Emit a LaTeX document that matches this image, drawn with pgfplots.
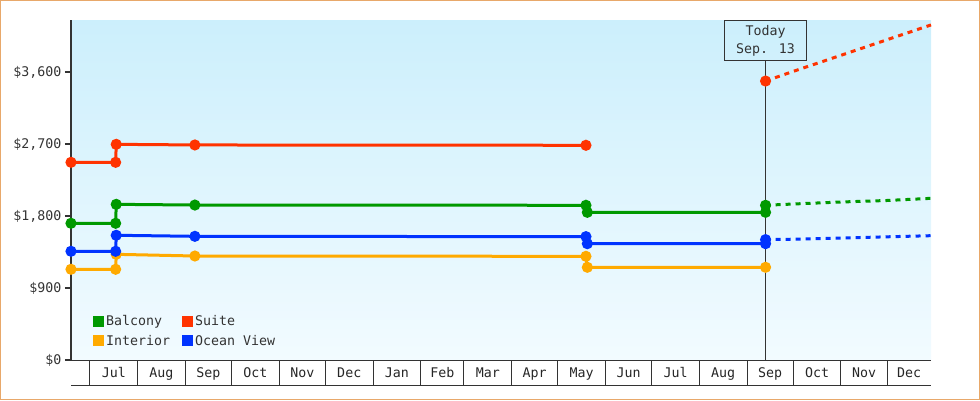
\documentclass[border=0pt]{standalone}
\usepackage{fontspec}
\setmainfont{DejaVu Sans Mono}
\usepackage{pgfplots}
\pgfplotsset{compat=1.18}

\definecolor{balcony}{HTML}{009900}
\definecolor{suite}{HTML}{FF3300}
\definecolor{interior}{HTML}{FFAA00}
\definecolor{oceanview}{HTML}{0033FF}
\definecolor{framecol}{HTML}{E8A86A}
\definecolor{axisgray}{HTML}{333333}
\definecolor{bgtop}{HTML}{CCEFFC}
\definecolor{bgbottom}{HTML}{F2FBFF}

% x = days since 1 Jul (year 1), y = fare in dollars
\begin{document}
\begin{tikzpicture}[font=\fontsize{13.3pt}{15pt}\selectfont]
\useasboundingbox (0,0) rectangle (980pt,-400pt);
\draw[framecol, line width=1pt] (0.5pt,-0.5pt) rectangle (979.5pt,-399.5pt);
\begin{axis}[
    at={(71pt,-360pt)}, anchor=south west,
    width=860pt, height=340pt, scale only axis,
    xmin=-12.3, xmax=546.5, ymin=0, ymax=4250,
    clip=false,
    axis x line*=bottom, axis y line*=left,
    x axis line style={line width=1pt, axisgray},
    y axis line style={line width=2pt, axisgray},
    axis background/.style={top color=bgtop, bottom color=bgbottom},
    tick align=outside,
    major tick length=6pt,
    minor tick length=25pt,
    ytick={0,900,1800,2700,3600},
    yticklabels={\$0,\$900,{\$1,800},{\$2,700},{\$3,600}},
    ytick style={line width=2pt, axisgray},
    yticklabel style={text=axisgray},
    xtick={15.5,46.5,77,107.5,138,168.5,199.5,229,258.5,289,319.5,350,380.5,411.5,442,472.5,503,532.25},
    xticklabels={Jul,Aug,Sep,Oct,Nov,Dec,Jan,Feb,Mar,Apr,May,Jun,Jul,Aug,Sep,Oct,Nov,Dec},
    minor xtick={0,31,62,92,123,153,184,215,243,274,304,335,365,396,427,457,488,518},
    major x tick style={draw=none},
    minor x tick style={line width=1pt, axisgray},
    xticklabel style={text=black!85, yshift=2pt},
    every axis plot/.append style={line width=3pt, mark=*, mark size=4pt, mark options={solid}},
    legend columns=2,
    legend cell align=left,
    legend style={draw=none, fill=none, text=axisgray,
        at={(axis description cs:0.022,0.144)}, anchor=north west,
        /tikz/every even column/.append style={column sep=10pt},
        /tikz/row sep=4pt},
    legend image code/.code={\fill[#1, draw=none] (0pt,-5.5pt) rectangle (11pt,5.5pt);},
]
% bottom edge of the month row
\draw[axisgray, line width=1pt] ([yshift=-25pt]rel axis cs:0,0) -- ([yshift=-25pt]rel axis cs:1,0);
% today marker
\node[draw=axisgray, line width=1pt, anchor=north, align=center, text=axisgray,
      inner xsep=12pt, inner ysep=5pt, font=\fontsize{13.3pt}{17.5pt}\selectfont]
      (today) at (axis cs:439,4250) {Today\\Sep. 13};
\draw[axisgray, line width=1pt] (axis cs:439,0) -- (today.south);

\addplot[color=balcony] coordinates {
    (-12.3,1709) (16.7,1709) (17.1,1946) (68.2,1937) (322.3,1934)
    (323.2,1846) (439,1846) (439,1934)
};
\addlegendentry{Balcony}
\addplot[color=suite] coordinates {
    (-12.3,2471) (16.7,2471) (17.1,2696) (68.2,2688) (322.3,2684)
};
\addlegendentry{Suite}
\addplot[color=interior] coordinates {
    (-12.3,1134) (16.7,1134) (17.1,1321) (68.2,1300) (322.3,1296)
    (323.2,1159) (439,1159)
};
\addlegendentry{Interior}
\addplot[color=oceanview] coordinates {
    (-12.3,1359) (16.7,1359) (17.1,1559) (68.2,1546) (322.3,1542)
    (323.2,1454) (439,1454) (439,1505)
};
\addlegendentry{Ocean View}

% projections past today
\addplot[forget plot, color=balcony, dash pattern=on 5pt off 5pt, no markers] coordinates {
    (439,1934) (457,1950) (488,1975) (518,1994) (546.5,2021)
};
\addplot[forget plot, color=oceanview, dash pattern=on 5pt off 5pt, no markers] coordinates {
    (439,1505) (457,1510) (488,1525) (518,1540) (546.5,1554)
};
\addplot[forget plot, color=suite, dash pattern=on 5pt off 5pt, mark indices={1}] coordinates {
    (439,3487) (457,3608) (488,3809) (518,4004) (546.5,4188)
};
\end{axis}
\end{tikzpicture}
\end{document}
